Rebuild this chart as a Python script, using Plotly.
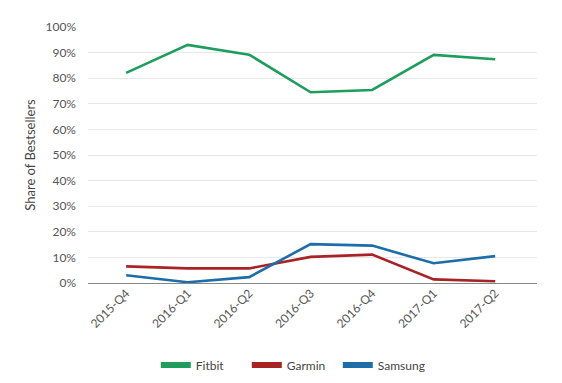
import plotly.graph_objects as go

quarters = ["2015-Q4", "2016-Q1", "2016-Q2", "2016-Q3", "2016-Q4", "2017-Q1", "2017-Q2"]
fitbit = [82.1, 93.0, 89.2, 74.5, 75.4, 89.1, 87.4]
garmin = [6.5, 5.7, 5.7, 10.2, 11.1, 1.4, 0.7]
samsung = [3.0, 0.3, 2.3, 15.2, 14.6, 7.7, 10.5]
y_ticks = list(range(0, 101, 10))
y_tick_labels = [f"{v}%" for v in y_ticks]

series = [("Fitbit", fitbit, "#1f9d5c"), ("Garmin", garmin, "#a82326"), ("Samsung", samsung, "#1d6ea8")]

fig = go.Figure()
for name, vals, color in series:
    fig.add_trace(go.Scatter(x=quarters, y=vals, mode="lines", name=name,
                             line=dict(color=color, width=2.6), showlegend=False))
for name, vals, color in series:
    fig.add_trace(go.Scatter(x=[None], y=[None], mode="lines", name=name,
                             line=dict(color=color, width=6), showlegend=True))

font_family = "Lato, 'Open Sans', sans-serif"
fig.update_layout(
    width=562, height=383,
    margin=dict(l=88, r=25, t=27, b=100, autoexpand=False),
    paper_bgcolor="white", plot_bgcolor="white",
    font=dict(family=font_family, color="#444", size=12),
    legend=dict(orientation="h", x=0.455, xanchor="center", y=-0.32, yanchor="middle",
                font=dict(size=12, color="#444"), itemwidth=30, entrywidth=46,
                tracegroupgap=0),
    xaxis=dict(type="category", range=[-0.62, 6.68], showgrid=False, zeroline=False,
               showline=False, tickangle=-45, ticks="", automargin=False,
               tickfont=dict(size=12, color="#555")),
    yaxis=dict(range=[0, 100], tickvals=y_ticks, ticktext=y_tick_labels,
               showgrid=True, gridcolor="#e8e8e8", gridwidth=1,
               zeroline=True, zerolinecolor="#888", zerolinewidth=1, automargin=False,
               ticks="", ticklabelstandoff=11, tickfont=dict(size=12, color="#555"),
               title=dict(text="Share of Bestsellers", font=dict(size=13, color="#444"), standoff=6)),
)
fig.write_html("out.html")
